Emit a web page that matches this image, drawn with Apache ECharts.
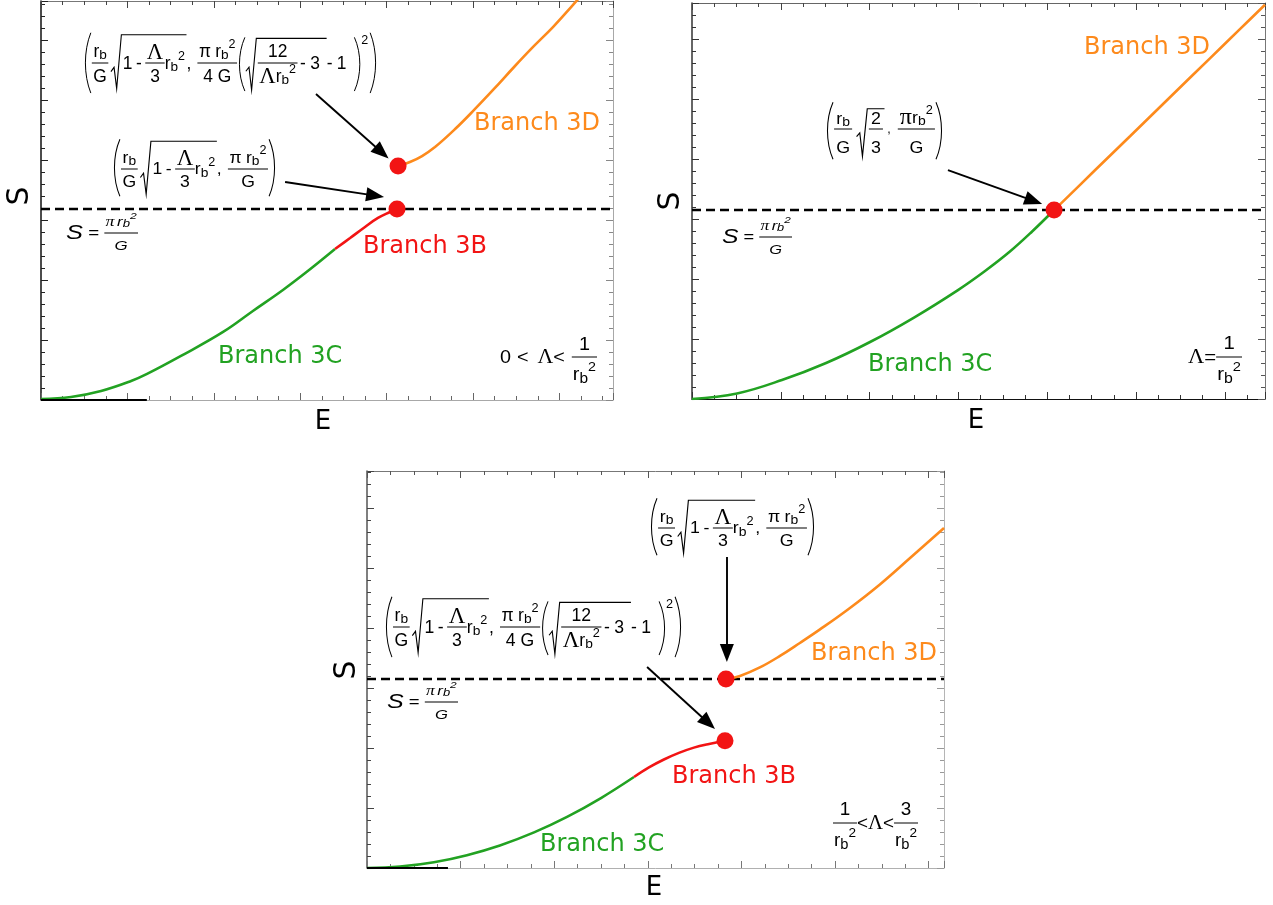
<!DOCTYPE html>
<html>
<head>
<meta charset="utf-8">
<script src="https://cdn.jsdelivr.net/npm/echarts@6/dist/echarts.min.js"></script>
<style>
html, body { margin: 0; padding: 0; background: #fff; }
#chart { width: 1273px; height: 905px; }
</style>
</head>
<body>
<div id="chart"></div>
<script>
// ---------------- data: E and S in tick units of each panel ----------------
// Panel 1: 0 < Λ < 1/rb²
const p1Branch3C = [[0,0.08],[1.39,0.25],[2.78,0.75],[4.17,1.58],[4.91,2.17],[6.48,3.67],[8.43,5.67],[9.81,7.42],[11.2,9.17],[12.41,10.83],[13.61,12.58]];
const p1Branch3B = [[13.61,12.58],[14.31,13.5],[15,14.42],[15.6,15.17],[16.16,15.67],[16.48,15.92]];
const p1Branch3D = [[16.53,19.5],[17.08,19.83],[17.64,20.33],[18.24,21.08],[19.17,22.58],[20.05,24.17],[20.97,25.92],[21.9,27.75],[22.78,29.42],[23.7,31.08],[24.58,32.83],[24.95,33.58]];
const p1Points = [[16.48,15.92],[16.53,19.5]];
const p1Level = 15.92;
const p1Arrows = [[[12.73,25.5],[15.78,20.62]], [[11.3,18.17],[15.47,17.03]]];
const p1Extent = [26.48, 33.25];
const p1DarkBase = 4.9;

// Panel 2: Λ = 1/rb²
const p2Branch3C = [[0,0],[2.03,0.46],[4.05,1.58],[6.04,3],[8.02,4.75],[10,6.79],[11.98,9.08],[13.2,10.67],[14.32,12.29],[15.32,13.96],[16.31,15.75]];
const p2Branch3D = [[16.31,15.75],[16.67,16.38],[18.15,19.06],[19.73,21.9],[21.53,25.15],[23.33,28.39],[24.68,30.82],[25.81,32.85]];
const p2Points = [[16.31,15.75]];
const p2Level = 15.75;
const p2Arrows = [[[11.53,19.08],[15.39,16.51]]];
const p2Extent = [25.81, 33];

// Panel 3: 1/rb² < Λ < 3/rb²
const p3Branch3C = [[0,0],[1.41,0.12],[2.86,0.48],[4.27,1.07],[5.68,1.88],[7.14,2.97],[8.55,4.26],[10,5.83],[11.41,7.58]];
const p3Branch3B = [[11.41,7.58],[12.05,8.38],[12.69,9.04],[13.33,9.59],[13.97,10.03],[14.62,10.34],[15.3,10.6]];
const p3Branch3D = [[15.34,15.75],[15.94,16],[16.79,16.71],[17.65,17.67],[18.5,18.75],[19.36,19.88],[20.64,21.67],[21.92,23.63],[23.21,25.83],[24.66,28.33]];
const p3Points = [[15.3,10.6],[15.34,15.75]];
const p3Level = 15.75;
const p3Arrows = [[[11.97,16.75],[14.59,12.08]], [[15.38,25.92],[15.38,17.92]]];
const p3Extent = [24.66, 33.08];
const p3DarkBase = 3.46;

const branchNames = ['Branch 3C', 'Branch 3B', 'Branch 3D'];

// ---------------- colours ----------------
const GREEN = '#22a222';
const RED = '#f21414';
const ORANGE = '#fd8a1c';

// ---------------- small formula layout helpers ----------------
const SANS = '"Liberation Sans", Arial, sans-serif';
const SERIF = '"Liberation Serif", "Times New Roman", serif';
const mctx = document.createElement('canvas').getContext('2d');
function fontOf(size, o) { return (o.italic ? 'italic ' : '') + (Math.round(size * 10) / 10) + 'px ' + (o.serif ? SERIF : SANS); }
function textWidth(str, font) { mctx.font = font; return mctx.measureText(str).width; }

function gLine(x1, y1, x2, y2, w) {
  return { type: 'line', silent: true, shape: { x1, y1, x2, y2 }, style: { stroke: '#000', lineWidth: w || 1 } };
}
function gPoly(points, w) {
  return { type: 'polyline', silent: true, shape: { points }, style: { stroke: '#000', fill: null, lineWidth: w || 1 } };
}
function gCurve(x1, y1, cx1, cy1, cx2, cy2, x2, y2) {
  return { type: 'bezierCurve', silent: true, shape: { x1, y1, x2, y2, cpx1: cx1, cpy1: cy1, cpx2: cx2, cpy2: cy2 },
    style: { stroke: '#000', fill: null, lineWidth: 1 } };
}
function gText(str, x, y, font, fill, extra) {
  return Object.assign({ type: 'text', silent: true, x, y,
    style: { text: str, font, fill: fill || '#000', align: 'left', textAlign: 'left', verticalAlign: 'middle', textVerticalAlign: 'middle' } }, extra || {});
}

function T(str, size, o) {
  o = o || {};
  const font = fontOf(size, o);
  const dy = o.dy || 0;
  return { w: textWidth(str, font), a: size * 0.4 - dy, d: size * 0.38 + dy,
    draw(x, y, out) { out.push(gText(str, x, y + dy + size * 0.04, font)); } };
}
function Sp(w) { return { w, a: 0, d: 0, draw() {} }; }
function Row() {
  const items = Array.prototype.slice.call(arguments);
  let w = 0, a = 0, d = 0;
  items.forEach(n => { w += n.w; a = Math.max(a, n.a); d = Math.max(d, n.d); });
  return { w, a, d, draw(x, y, out) { let cx = x; items.forEach(n => { n.draw(cx, y, out); cx += n.w; }); } };
}
function Frac(num, den, gN, gD, pad) {
  pad = pad == null ? 1.5 : pad;
  const w = Math.max(num.w, den.w) + 2 * pad;
  return { w, a: gN + num.d + num.a, d: gD + den.a + den.d,
    draw(x, y, out) {
      out.push(gLine(x, y, x + w, y, 1));
      num.draw(x + (w - num.w) / 2, y - gN - num.d, out);
      den.draw(x + (w - den.w) / 2, y + gD + den.a, out);
    } };
}
function Sqrt(child, rw, gT, gB) {
  const w = rw + child.w + 3;
  return { w, a: child.a + gT, d: child.d + gB,
    draw(x, y, out) {
      const top = y - child.a - gT, bot = y + child.d + gB;
      const h = bot - top;
      out.push(gPoly([[x, y + h * 0.16], [x + rw * 0.3, y + h * 0.08], [x + rw * 0.55, bot], [x + rw, top], [x + w, top]], 1.1));
      child.draw(x + rw + 1.5, y, out);
    } };
}
function Paren(child, ext, pw, sup) {
  const sw = sup ? sup.w : 0;
  const w = 2 * pw + child.w + 2 + sw;
  return { w, a: child.a + ext, d: child.d + ext,
    draw(x, y, out) {
      const top = y - child.a - ext, bot = y + child.d + ext, h = bot - top;
      out.push(gCurve(x + pw, top, x + 0.6, top + h * 0.3, x + 0.6, bot - h * 0.3, x + pw, bot));
      child.draw(x + pw + 1, y, out);
      const rx = x + pw + 2 + child.w;
      out.push(gCurve(rx, top, rx + pw - 0.6, top + h * 0.3, rx + pw - 0.6, bot - h * 0.3, rx, bot));
      if (sup) sup.draw(rx + pw - 1, top + 3, out);
    } };
}

const rb = (s, o) => Row(T('r', s, o), T('b', s * 0.78, Object.assign({}, o, { dy: s * 0.2 })));
const rb2 = (s, o) => Row(T('r', s, o), T('b', s * 0.78, Object.assign({}, o, { dy: s * 0.2 })),
                          T('2', s * 0.72, Object.assign({}, o, { dy: -s * 0.42 })));
const lam = (s, k) => T('Λ', s * (k || 1.3), { serif: true });

// √(1 - Λ/3 rb²)
const rootTerm = s => Sqrt(Row(T('1', s), Sp(s * 0.2), T('-', s), Sp(s * 0.2), Frac(lam(s), T('3', s), 2.5, 6), rb2(s)), s * 0.6, 8, 6);

// (rb/G √(1 - Λ/3 rb²), π rb²/G)
const formulaB = s => Paren(Row(
  Frac(rb(s), T('G', s), 3, 6), Sp(s * 0.15),
  rootTerm(s),
  T(',', s), Sp(s * 0.35),
  Frac(Row(T('π', s), Sp(s * 0.25), rb2(s)), T('G', s), 3, 6)
), 2, s * 0.45);

// (rb/G √(1 - Λ/3 rb²), π rb²/(4G) (√(12/(Λrb²) - 3) - 1)²)
const formulaA = s => Paren(Row(
  Frac(rb(s), T('G', s), 3, 6), Sp(s * 0.15),
  rootTerm(s),
  T(',', s), Sp(s * 0.35),
  Frac(Row(T('π', s), Sp(s * 0.25), rb2(s)), T('4 G', s), 3, 6),
  Paren(Row(
    Sqrt(Row(Frac(T('12', s), Row(lam(s), rb2(s)), 5, 1), Sp(s * 0.15), T('-', s), Sp(s * 0.25), T('3', s), Sp(s * 0.3)), s * 0.6, 6, 5),
    T('-', s), Sp(s * 0.25), T('1', s), Sp(s * 0.4)
  ), 1, s * 0.45, T('2', s * 0.72))
), 2, s * 0.45);

// (rb/G √(2/3), π rb²/G)
const formulaC = s => Paren(Row(
  Frac(rb(s), T('G', s), 2, 12, 2), Sp(s * 0.25),
  Sqrt(Frac(T('2', s), T('3', s), 4, 12, 2), s * 0.6, 3, 2),
  Sp(s * 0.15), T(',', s * 0.7), Sp(s * 0.4),
  Frac(Row(T('π', s * 1.35, { serif: true }), rb2(s)), T('G', s), 3, 12, 2)
), 3, s * 0.45);

// S = π rb²/G
const levelLabel = s => Row(
  T('S', s * 1.35, { italic: true }), T(' = ', s),
  Frac(Row(T('π', s * 0.95, { italic: true, serif: true }), Sp(2), rb2(s * 0.9, { italic: true })), T('G', s * 0.9, { italic: true }), 5, 7, 1)
);

const lambdaLabel1 = s => Row(T('0', s), Sp(s * 0.3), T('<', s), Sp(s * 0.45), lam(s, 1.1), T('<', s), Sp(s * 0.35), Frac(T('1', s), rb2(s), 6, 4, 1));
const lambdaLabel2 = s => Row(lam(s, 1.1), T('=', s), Frac(T('1', s), rb2(s), 7, 4, 1));
const lambdaLabel3 = s => Row(Frac(T('1', s), rb2(s), 7, 4, 1), T('<', s), lam(s, 1.1), T('<', s), Frac(T('3', s), rb2(s), 7, 4, 1));

// draw a formula at font size s spanning x0..x1 with its math axis at y
function place(build, x0, x1, y, s, out) {
  const n = build(s);
  const kids = [];
  n.draw(0, y, kids);
  out.push({ type: 'group', x: x0, y: 0, scaleX: (x1 - x0) / n.w, silent: true, children: kids });
}

// ---------------- chart option ----------------
const grids = [
  { left: 41, top: 1, width: 572, height: 399 },
  { left: 692, top: 3, width: 573, height: 396 },
  { left: 367, top: 471, width: 577, height: 397 }
];
const extents = [p1Extent, p2Extent, p3Extent];
const frameStyles = [
  { left: '#111', bottom: '#a8a8a8', top: '#777', right: '#a8a8a8', tickL: '#222', tickB: '#666', tickT: '#444', tickR: '#888' },
  { left: '#333', bottom: '#111', top: '#666', right: '#777', tickL: '#333', tickB: '#333', tickT: '#444', tickR: '#555' },
  { left: '#555', bottom: '#b0b0b0', top: '#777', right: '#b5b5b5', tickL: '#444', tickB: '#777', tickT: '#555', tickR: '#999' }
];

const xAxes = [], yAxes = [];
grids.forEach((g, gi) => {
  const fs = frameStyles[gi];
  const [xmax, ymax] = extents[gi];
  const base = { type: 'value', gridIndex: gi, min: 0, axisLabel: { show: false }, splitLine: { show: false } };
  ['bottom', 'top'].forEach(pos => {
    const c = pos === 'bottom' ? fs.bottom : fs.top;
    const tc = pos === 'bottom' ? fs.tickB : fs.tickT;
    xAxes.push(Object.assign({}, base, { position: pos, max: xmax, interval: 4,
      axisLine: { onZero: false, lineStyle: { color: c, width: 1 } },
      axisTick: { inside: true, length: 7, lineStyle: { color: tc } },
      minorTick: { show: true, splitNumber: 4, length: 4, lineStyle: { color: tc } } }));
  });
  ['left', 'right'].forEach(pos => {
    const c = pos === 'left' ? fs.left : fs.right;
    const tc = pos === 'left' ? fs.tickL : fs.tickR;
    yAxes.push(Object.assign({}, base, { position: pos, max: ymax, interval: 5,
      axisLine: { onZero: false, lineStyle: { color: c, width: pos === 'left' ? 1.5 : 1 } },
      axisTick: { inside: true, length: 7, lineStyle: { color: tc } },
      minorTick: { show: true, splitNumber: 5, length: 4, lineStyle: { color: tc } } }));
  });
});

function curve(gi, name, data, color) {
  return { type: 'line', name, xAxisIndex: gi * 2, yAxisIndex: gi * 2, data, showSymbol: false,
    smooth: 0.4,
    lineStyle: { color, width: 2.6 }, z: 3, silent: true, clip: true };
}
function dots(gi, data) {
  return { type: 'scatter', xAxisIndex: gi * 2, yAxisIndex: gi * 2, data, symbolSize: 17,
    itemStyle: { color: RED, opacity: 1 }, z: 6, silent: true };
}
function guides(gi, level, arrows, darkBase) {
  const xmax = extents[gi][0];
  const ml = arrows.map(a => [
    { coord: a[0], symbol: 'none', lineStyle: { color: '#000', width: 1.9, type: 'solid' } },
    { coord: a[1], symbol: 'triangle', symbolSize: [14, 18] }
  ]);
  if (darkBase) {
    ml.push([{ coord: [0, 0], symbol: 'none', lineStyle: { color: '#000', width: 2, type: 'solid' } },
             { coord: [darkBase, 0], symbol: 'none' }]);
  }
  return { type: 'line', xAxisIndex: gi * 2, yAxisIndex: gi * 2,
    data: [[0, level], [xmax, level]], showSymbol: false, silent: true, z: 2,
    lineStyle: { color: '#000', width: 2.6, type: [9, 5] },
    markLine: { silent: true, animation: false, label: { show: false }, symbol: ['none', 'none'],
      itemStyle: { color: '#000' }, lineStyle: { color: '#000', width: 1.9, type: 'solid' }, data: ml } };
}

const series = [
  guides(0, p1Level, p1Arrows, p1DarkBase),
  curve(0, branchNames[0], p1Branch3C, GREEN),
  curve(0, branchNames[1], p1Branch3B, RED),
  curve(0, branchNames[2], p1Branch3D, ORANGE),
  dots(0, p1Points),

  guides(1, p2Level, p2Arrows, 0),
  curve(1, branchNames[0], p2Branch3C, GREEN),
  curve(1, branchNames[2], p2Branch3D, ORANGE),
  dots(1, p2Points),

  guides(2, p3Level, p3Arrows, p3DarkBase),
  curve(2, branchNames[0], p3Branch3C, GREEN),
  curve(2, branchNames[1], p3Branch3B, RED),
  curve(2, branchNames[2], p3Branch3D, ORANGE),
  dots(2, p3Points)
];

// ---------------- text annotations ----------------
const ann = [];
const BRANCH_FONT = '24px "DejaVu Sans", Verdana, sans-serif';
function branchText(str, x, y, color) { ann.push(gText(str, x, y, BRANCH_FONT, color)); }
branchText(branchNames[2], 474, 124, ORANGE);
branchText(branchNames[1], 363, 247, RED);
branchText(branchNames[0], 218, 357, GREEN);
branchText(branchNames[2], 1084, 48, ORANGE);
branchText(branchNames[0], 868, 365, GREEN);
branchText(branchNames[2], 811, 654, ORANGE);
branchText(branchNames[1], 672, 777, RED);
branchText(branchNames[0], 540, 845, GREEN);

// axis titles
function axisTitle(str, x, y, size, rot) {
  ann.push({ type: 'text', silent: true, x, y, rotation: rot || 0,
    style: { text: str, font: size + 'px "DejaVu Sans", Verdana, sans-serif', fill: '#000',
      align: 'center', textAlign: 'center', verticalAlign: 'middle', textVerticalAlign: 'middle' } });
}
axisTitle('S', 20, 196, 30, Math.PI / 2);
axisTitle('E', 323, 422, 26);
axisTitle('S', 671, 201, 30, Math.PI / 2);
axisTitle('E', 976, 421, 26);
axisTitle('S', 347, 670, 30, Math.PI / 2);
axisTitle('E', 654, 888, 26);

// formulas
place(formulaA, 83, 378, 63, 17.5, ann);
place(formulaB, 112, 277, 169, 17, ann);
place(formulaC, 825, 944, 129, 17, ann);
place(formulaB, 649, 816, 528, 17, ann);
place(formulaA, 384, 683, 627, 17.5, ann);

place(levelLabel, 66, 138, 233, 15, ann);
place(levelLabel, 722, 792, 237, 15, ann);
place(levelLabel, 387, 458, 702, 15, ann);

place(lambdaLabel1, 500, 597, 357, 19, ann);
place(lambdaLabel2, 1188, 1242, 357, 19, ann);
place(lambdaLabel3, 833, 918, 823, 19, ann);

const option = {
  backgroundColor: '#fff',
  animation: false,
  grid: grids,
  xAxis: xAxes,
  yAxis: yAxes,
  series,
  graphic: { elements: ann }
};

const chart = echarts.init(document.getElementById('chart'), null, { renderer: 'canvas' });
chart.setOption(option);
</script>
</body>
</html>
